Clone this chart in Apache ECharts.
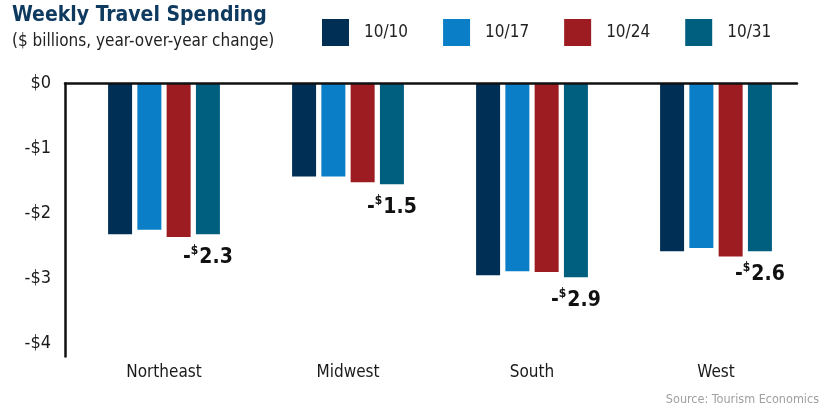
<!DOCTYPE html>
<html>
<head>
<meta charset="utf-8">
<script src="https://cdn.jsdelivr.net/npm/echarts@6/dist/echarts.min.js"></script>
<style>
html,body{margin:0;padding:0;background:#fff;}
#chart{width:834px;height:411px;}
</style>
</head>
<body>
<div id="chart"></div>
<script>
const categories = ['Northeast', 'Midwest', 'South', 'West'];
const weeks = ['10/10', '10/17', '10/24', '10/31'];
const values1010 = [-2.32, -1.43, -2.95, -2.58];
const values1017 = [-2.25, -1.43, -2.89, -2.53];
const values1024 = [-2.36, -1.52, -2.90, -2.66];
const values1031 = [-2.32, -1.55, -2.98, -2.58];
const regionLabels = [-2.3, -1.5, -2.9, -2.6];
const yTicks = [0, -1, -2, -3, -4];

const colors = ['#002f56', '#0a7ec6', '#9d1c21', '#005e7e'];
const FF = "'Liberation Sans Narrow','DejaVu Sans Condensed','Roboto Condensed',sans-serif";

const chart = echarts.init(document.getElementById('chart'), null, {renderer: 'canvas'});

const seriesData = [values1010, values1017, values1024, values1031];
const series = weeks.map((w, i) => {
  const s = {
    name: w,
    type: 'bar',
    xAxisIndex: 0,
    yAxisIndex: 0,
    data: seriesData[i],
    barWidth: 24,
    barGap: '22%',
    itemStyle: {color: colors[i]},
    emphasis: {disabled: true},
    silent: true
  };
  if (i === 3) {
    s.label = {
      show: true,
      position: 'bottom',
      distance: 11,
      formatter: p => '{m|-}{s|$}{n|' + Math.abs(regionLabels[p.dataIndex]).toFixed(1) + '}',
      rich: {
        m: {fontFamily: FF, fontWeight: 'bold', fontSize: 21, color: '#111', lineHeight: 24},
        s: {fontFamily: FF, fontWeight: 'bold', fontSize: 12, color: '#111', verticalAlign: 'top', lineHeight: 24, padding: [0, 1, 10, 0]},
        n: {fontFamily: FF, fontWeight: 'bold', fontSize: 21, color: '#111', lineHeight: 24}
      }
    };
  }
  return s;
});

const option = {
  animation: false,
  backgroundColor: '#fff',
  title: [
    {text: 'Weekly Travel Spending', left: 12, top: 5, padding: 0,
     textStyle: {fontFamily: FF, fontWeight: 'bold', fontSize: 21, color: '#0f3a60'}},
    {text: '($ billions, year-over-year change)', left: 12, top: 33, padding: 0,
     textStyle: {fontFamily: FF, fontWeight: 'normal', fontSize: 17, color: '#222'}},
    {text: 'Source: Tourism Economics', right: 15, top: 393, padding: 0,
     textStyle: {fontFamily: FF, fontWeight: 'normal', fontSize: 12.5, color: '#a0a0a0'}}
  ],
  legend: {
    data: weeks,
    left: 322,
    top: 19,
    width: 510,
    padding: 0,
    itemWidth: 27,
    itemHeight: 27,
    itemGap: 35,
    icon: 'rect',
    selectedMode: false,
    textStyle: {fontFamily: FF, fontSize: 17, color: '#222', padding: [0, 0, 0, 10]}
  },
  grid: [
    {left: 72, top: 83.5, width: 736, height: 273},
    {left: 65, top: 83.5, width: 732, height: 273}
  ],
  xAxis: [
    {type: 'category', gridIndex: 0, data: categories,
     axisLine: {show: false}, axisTick: {show: false},
     axisLabel: {margin: 8, fontFamily: FF, fontSize: 17, color: '#1a1a1a'}},
    {type: 'value', gridIndex: 1, position: 'top', min: 0, max: 1, z: 5,
     axisLine: {show: true, lineStyle: {color: '#111', width: 2.5}},
     axisTick: {show: false}, axisLabel: {show: false}, splitLine: {show: false}}
  ],
  yAxis: [
    {type: 'value', gridIndex: 0, min: -4.2, max: 0, show: false, splitLine: {show: false}},
    {type: 'value', gridIndex: 1, min: -4.2, max: 0, z: 5,
     axisLine: {show: true, lineStyle: {color: '#111', width: 2.5}},
     axisTick: {show: false}, splitLine: {show: false},
     axisLabel: {
       showMinLabel: false, margin: 14,
       fontFamily: FF, fontSize: 18, color: '#1a1a1a',
       formatter: v => {
         if (yTicks.indexOf(v) < 0) return '';
         return v === 0 ? '$0' : '-$' + Math.abs(v);
       }
     }}
  ],
  series: series
};
chart.setOption(option);
</script>
</body>
</html>
